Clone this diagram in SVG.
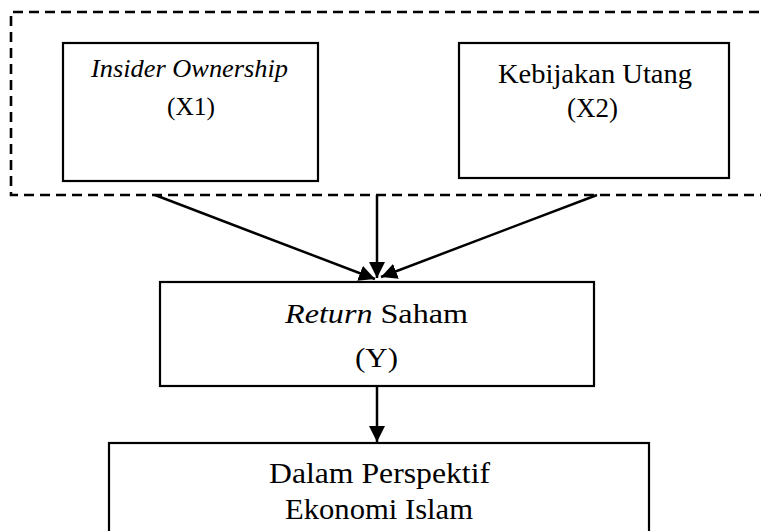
<svg xmlns="http://www.w3.org/2000/svg" width="761" height="531" viewBox="0 0 761 531">
<style>
.box{fill:#fff;stroke:#000;stroke-width:2.2}
.dash{fill:none;stroke:#000;stroke-width:2.6;stroke-dasharray:10 6}
.t{font-family:"Liberation Serif","Times New Roman",Times,serif;font-size:27px;fill:#000}
.i{font-style:italic}
.c{fill:none;stroke:#000;stroke-width:2.5}
</style>
<defs>
<marker id="ah" viewBox="0 0 10 10" refX="10" refY="5" markerWidth="6.4" markerHeight="6.4" orient="auto" markerUnits="strokeWidth">
<path d="M0,0 L10,5 L0,10 z" fill="#000"/>
</marker>
</defs>
<rect width="761" height="531" fill="#fff"/>
<g id="group-x">
<path class="dash" d="M775,12 L11,12 L11,195 L775,195"/>
</g>
<g id="node-x1">
<rect class="box" x="63" y="43" width="255" height="138"/>
<text class="t i" x="91" y="77" textLength="197" lengthAdjust="spacingAndGlyphs" style="font-size:25px">Insider Ownership</text>
<text class="t" x="167" y="115" textLength="48" lengthAdjust="spacingAndGlyphs" style="font-size:25px">(X1)</text>
</g>
<g id="node-x2">
<rect class="box" x="459" y="43" width="270" height="135"/>
<text class="t" x="498" y="83" textLength="194" lengthAdjust="spacingAndGlyphs">Kebijakan Utang</text>
<text class="t" x="567" y="117" textLength="51" lengthAdjust="spacingAndGlyphs">(X2)</text>
</g>
<g id="node-y">
<rect class="box" x="160" y="282" width="434" height="104"/>
<text class="t" x="285" y="323" textLength="183" lengthAdjust="spacingAndGlyphs" style="font-size:28px"><tspan class="i">Return</tspan> Saham</text>
<text class="t" x="355" y="367" textLength="43" lengthAdjust="spacingAndGlyphs" style="font-size:28px">(Y)</text>
</g>
<g id="node-islam">
<rect class="box" x="109" y="443" width="540" height="100"/>
<text class="t" x="269" y="483" textLength="221" lengthAdjust="spacingAndGlyphs" style="font-size:29px">Dalam Perspektif</text>
<text class="t" x="285" y="519" textLength="188" lengthAdjust="spacingAndGlyphs" style="font-size:29px">Ekonomi Islam</text>
</g>
<g id="connectors">
<line class="c" x1="155" y1="195" x2="375" y2="279" marker-end="url(#ah)"/>
<line class="c" x1="377" y1="195" x2="377" y2="278" marker-end="url(#ah)"/>
<line class="c" x1="597" y1="195" x2="381" y2="277" marker-end="url(#ah)"/>
<line class="c" x1="377" y1="386" x2="377" y2="442" marker-end="url(#ah)"/>
</g>
</svg>
